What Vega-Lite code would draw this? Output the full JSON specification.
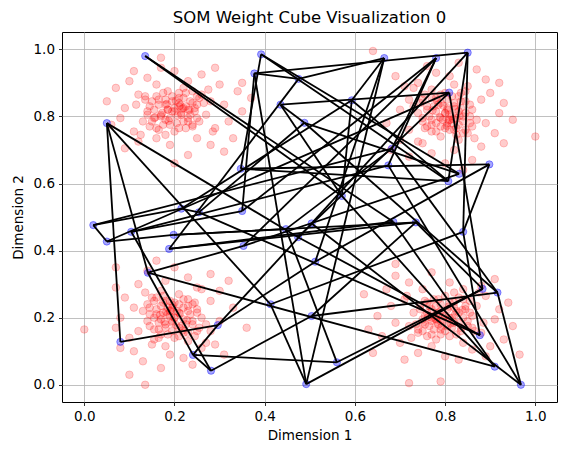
{
  "$schema": "https://vega.github.io/schema/vega-lite/v6.json",
  "width": 495,
  "height": 370,
  "autosize": "none",
  "padding": {"left": 62, "top": 32, "right": 10, "bottom": 53},
  "title": {"text": "SOM Weight Cube Visualization 0", "font": "DejaVu Sans", "fontSize": 16.5, "fontWeight": "normal", "color": "black", "offset": 6},
  "config": {
    "view": {"stroke": "black", "strokeWidth": 1},
    "axis": {
      "domain": false, "grid": true, "gridColor": "#b0b0b0", "gridWidth": 0.8,
      "tickColor": "black", "tickSize": 3.5, "tickWidth": 0.8,
      "labelFont": "DejaVu Sans", "labelFontSize": 13.5, "labelColor": "black", "labelPadding": 3,
      "titleFont": "DejaVu Sans", "titleFontSize": 13.5, "titleFontWeight": "normal", "titleColor": "black"
    }
  },
  "datasets": {
    "pts": [
      {"x":0.2,"y":0.815},{"x":0.22,"y":0.825},{"x":0.18,"y":0.835},{"x":0.23,"y":0.795},{"x":0.17,"y":0.805},{"x":0.21,"y":0.855},{"x":0.19,"y":0.775},{"x":0.25,"y":0.835},{"x":0.15,"y":0.845},{"x":0.24,"y":0.775},
      {"x":0.16,"y":0.765},{"x":0.26,"y":0.865},{"x":0.14,"y":0.815},{"x":0.27,"y":0.805},{"x":0.13,"y":0.785},{"x":0.22,"y":0.885},{"x":0.18,"y":0.745},{"x":0.28,"y":0.845},{"x":0.12,"y":0.865},{"x":0.29,"y":0.765},
      {"x":0.11,"y":0.755},{"x":0.23,"y":0.905},{"x":0.16,"y":0.895},{"x":0.25,"y":0.735},{"x":0.19,"y":0.715},{"x":0.31,"y":0.835},{"x":0.09,"y":0.825},{"x":0.32,"y":0.785},{"x":0.08,"y":0.795},{"x":0.2,"y":0.935},
      {"x":0.26,"y":0.925},{"x":0.14,"y":0.915},{"x":0.3,"y":0.895},{"x":0.1,"y":0.905},{"x":0.28,"y":0.715},{"x":0.12,"y":0.725},{"x":0.34,"y":0.875},{"x":0.06,"y":0.775},{"x":0.33,"y":0.735},{"x":0.07,"y":0.885},
      {"x":0.21,"y":0.83},{"x":0.215,"y":0.805},{"x":0.185,"y":0.82},{"x":0.235,"y":0.845},{"x":0.165,"y":0.85},{"x":0.245,"y":0.815},{"x":0.155,"y":0.795},{"x":0.225,"y":0.765},{"x":0.175,"y":0.87},{"x":0.255,"y":0.785},
      {"x":0.145,"y":0.77},{"x":0.265,"y":0.84},{"x":0.135,"y":0.86},{"x":0.2,"y":0.755},{"x":0.21,"y":0.87},{"x":0.275,"y":0.88},{"x":0.125,"y":0.745},{"x":0.285,"y":0.755},{"x":0.115,"y":0.835},{"x":0.24,"y":0.875},
      {"x":0.16,"y":0.735},{"x":0.35,"y":0.815},{"x":0.05,"y":0.845},{"x":0.23,"y":0.685},{"x":0.17,"y":0.945},{"x":0.37,"y":0.855},{"x":0.31,"y":0.695},{"x":0.09,"y":0.705},{"x":0.29,"y":0.945},{"x":0.11,"y":0.935},
      {"x":0.22,"y":0.785},{"x":0.195,"y":0.845},{"x":0.23,"y":0.82},{"x":0.18,"y":0.79},{"x":0.25,"y":0.86},{"x":0.17,"y":0.975},{"x":0.35,"y":0.9},{"x":0.2,"y":0.66},
      {"x":0.2,"y":0.825},{"x":0.185,"y":0.82},{"x":0.215,"y":0.81},{"x":0.17,"y":0.8},{"x":0.21,"y":0.84},{"x":0.19,"y":0.795},{"x":0.225,"y":0.83},{"x":0.165,"y":0.835},{"x":0.205,"y":0.78},{"x":0.18,"y":0.85},
      {"x":0.235,"y":0.805},{"x":0.155,"y":0.82},{"x":0.22,"y":0.855},{"x":0.175,"y":0.775},{"x":0.24,"y":0.84},{"x":0.15,"y":0.785},{"x":0.195,"y":0.86},{"x":0.23,"y":0.785},{"x":0.16,"y":0.86},{"x":0.245,"y":0.825},
      {"x":0.145,"y":0.83},{"x":0.21,"y":0.765},{"x":0.185,"y":0.875},{"x":0.25,"y":0.795},{"x":0.14,"y":0.805},{"x":0.225,"y":0.87},{"x":0.165,"y":0.76},{"x":0.255,"y":0.855},{"x":0.135,"y":0.85},{"x":0.24,"y":0.77},
      {"x":0.195,"y":0.815},{"x":0.207,"y":0.803},{"x":0.183,"y":0.837},{"x":0.217,"y":0.823},{"x":0.173,"y":0.811},{"x":0.203,"y":0.847},{"x":0.187,"y":0.787},{"x":0.233,"y":0.819},{"x":0.157,"y":0.797},{"x":0.213,"y":0.833},

      {"x":0.8,"y":0.81},{"x":0.81,"y":0.79},{"x":0.82,"y":0.83},{"x":0.78,"y":0.78},{"x":0.79,"y":0.84},{"x":0.84,"y":0.8},{"x":0.76,"y":0.82},{"x":0.82,"y":0.76},{"x":0.83,"y":0.86},{"x":0.76,"y":0.77},
      {"x":0.75,"y":0.85},{"x":0.85,"y":0.75},{"x":0.8,"y":0.87},{"x":0.79,"y":0.74},{"x":0.77,"y":0.88},{"x":0.87,"y":0.79},{"x":0.73,"y":0.83},{"x":0.83,"y":0.73},{"x":0.85,"y":0.89},{"x":0.75,"y":0.72},
      {"x":0.74,"y":0.9},{"x":0.89,"y":0.78},{"x":0.88,"y":0.85},{"x":0.72,"y":0.76},{"x":0.7,"y":0.82},{"x":0.82,"y":0.7},{"x":0.81,"y":0.92},{"x":0.77,"y":0.69},{"x":0.78,"y":0.93},{"x":0.92,"y":0.81},
      {"x":0.91,"y":0.75},{"x":0.9,"y":0.87},{"x":0.88,"y":0.71},{"x":0.89,"y":0.91},{"x":0.7,"y":0.73},{"x":0.71,"y":0.89},{"x":0.86,"y":0.67},{"x":0.76,"y":0.95},{"x":0.72,"y":0.68},{"x":0.87,"y":0.94},
      {"x":0.815,"y":0.8},{"x":0.79,"y":0.795},{"x":0.805,"y":0.825},{"x":0.83,"y":0.775},{"x":0.835,"y":0.845},{"x":0.8,"y":0.765},{"x":0.78,"y":0.855},{"x":0.75,"y":0.785},{"x":0.855,"y":0.835},{"x":0.77,"y":0.755},
      {"x":0.755,"y":0.865},{"x":0.825,"y":0.745},{"x":0.845,"y":0.875},{"x":0.74,"y":0.81},{"x":0.855,"y":0.8},{"x":0.865,"y":0.735},{"x":0.73,"y":0.885},{"x":0.74,"y":0.725},{"x":0.82,"y":0.895},{"x":0.86,"y":0.77},
      {"x":0.72,"y":0.85},{"x":0.8,"y":0.66},{"x":0.83,"y":0.96},{"x":0.67,"y":0.78},{"x":0.93,"y":0.84},{"x":0.84,"y":0.64},{"x":0.68,"y":0.7},{"x":0.69,"y":0.92},{"x":0.93,"y":0.72},{"x":0.92,"y":0.9},
      {"x":0.77,"y":0.79},{"x":0.83,"y":0.815},{"x":0.805,"y":0.78},{"x":0.775,"y":0.83},{"x":0.845,"y":0.76},{"x":1.0,"y":0.74},{"x":0.64,"y":0.995},{"x":0.95,"y":0.79},
      {"x":0.81,"y":0.805},{"x":0.805,"y":0.82},{"x":0.795,"y":0.79},{"x":0.785,"y":0.835},{"x":0.825,"y":0.795},{"x":0.78,"y":0.815},{"x":0.815,"y":0.78},{"x":0.82,"y":0.84},{"x":0.765,"y":0.8},{"x":0.835,"y":0.825},
      {"x":0.79,"y":0.77},{"x":0.805,"y":0.85},{"x":0.84,"y":0.785},{"x":0.76,"y":0.83},{"x":0.825,"y":0.765},{"x":0.77,"y":0.855},{"x":0.845,"y":0.81},{"x":0.77,"y":0.775},{"x":0.845,"y":0.845},{"x":0.81,"y":0.76},
      {"x":0.815,"y":0.86},{"x":0.75,"y":0.795},{"x":0.86,"y":0.82},{"x":0.78,"y":0.755},{"x":0.79,"y":0.865},{"x":0.855,"y":0.78},{"x":0.745,"y":0.84},{"x":0.84,"y":0.75},{"x":0.835,"y":0.87},{"x":0.755,"y":0.765},
      {"x":0.8,"y":0.81},{"x":0.788,"y":0.798},{"x":0.822,"y":0.822},{"x":0.808,"y":0.788},{"x":0.796,"y":0.832},{"x":0.832,"y":0.802},{"x":0.772,"y":0.818},{"x":0.804,"y":0.772},{"x":0.782,"y":0.848},{"x":0.818,"y":0.792},

      {"x":0.2,"y":0.2},{"x":0.19,"y":0.22},{"x":0.18,"y":0.18},{"x":0.22,"y":0.23},{"x":0.21,"y":0.17},{"x":0.16,"y":0.21},{"x":0.24,"y":0.19},{"x":0.18,"y":0.25},{"x":0.17,"y":0.15},{"x":0.24,"y":0.24},
      {"x":0.25,"y":0.16},{"x":0.15,"y":0.26},{"x":0.2,"y":0.14},{"x":0.21,"y":0.27},{"x":0.23,"y":0.13},{"x":0.13,"y":0.22},{"x":0.27,"y":0.18},{"x":0.17,"y":0.28},{"x":0.15,"y":0.12},{"x":0.25,"y":0.29},
      {"x":0.26,"y":0.11},{"x":0.11,"y":0.23},{"x":0.12,"y":0.16},{"x":0.28,"y":0.25},{"x":0.3,"y":0.19},{"x":0.18,"y":0.31},{"x":0.19,"y":0.09},{"x":0.23,"y":0.32},{"x":0.22,"y":0.08},{"x":0.08,"y":0.2},
      {"x":0.09,"y":0.26},{"x":0.1,"y":0.14},{"x":0.12,"y":0.3},{"x":0.11,"y":0.1},{"x":0.3,"y":0.28},{"x":0.29,"y":0.12},{"x":0.14,"y":0.34},{"x":0.24,"y":0.06},{"x":0.28,"y":0.33},{"x":0.13,"y":0.07},
      {"x":0.185,"y":0.21},{"x":0.21,"y":0.215},{"x":0.195,"y":0.185},{"x":0.17,"y":0.235},{"x":0.165,"y":0.165},{"x":0.2,"y":0.245},{"x":0.22,"y":0.155},{"x":0.25,"y":0.225},{"x":0.145,"y":0.175},{"x":0.23,"y":0.255},
      {"x":0.245,"y":0.145},{"x":0.175,"y":0.265},{"x":0.155,"y":0.135},{"x":0.26,"y":0.2},{"x":0.145,"y":0.21},{"x":0.135,"y":0.275},{"x":0.27,"y":0.125},{"x":0.26,"y":0.285},{"x":0.18,"y":0.115},{"x":0.14,"y":0.24},
      {"x":0.28,"y":0.16},{"x":0.2,"y":0.35},{"x":0.17,"y":0.05},{"x":0.33,"y":0.23},{"x":0.07,"y":0.17},{"x":0.16,"y":0.37},{"x":0.32,"y":0.31},{"x":0.31,"y":0.09},{"x":0.07,"y":0.29},{"x":0.08,"y":0.11},
      {"x":0.23,"y":0.22},{"x":0.17,"y":0.195},{"x":0.195,"y":0.23},{"x":0.225,"y":0.18},{"x":0.155,"y":0.25},{"x":0.0,"y":0.165},{"x":0.135,"y":0.0},{"x":0.36,"y":0.17},{"x":0.07,"y":0.35},{"x":0.1,"y":0.03},
      {"x":0.19,"y":0.205},{"x":0.195,"y":0.19},{"x":0.205,"y":0.22},{"x":0.215,"y":0.175},{"x":0.175,"y":0.215},{"x":0.22,"y":0.195},{"x":0.185,"y":0.23},{"x":0.18,"y":0.17},{"x":0.235,"y":0.21},{"x":0.165,"y":0.185},
      {"x":0.21,"y":0.24},{"x":0.195,"y":0.16},{"x":0.16,"y":0.225},{"x":0.24,"y":0.18},{"x":0.175,"y":0.245},{"x":0.23,"y":0.155},{"x":0.155,"y":0.2},{"x":0.23,"y":0.235},{"x":0.155,"y":0.165},{"x":0.19,"y":0.25},
      {"x":0.185,"y":0.15},{"x":0.25,"y":0.215},{"x":0.14,"y":0.19},{"x":0.22,"y":0.255},{"x":0.21,"y":0.145},{"x":0.145,"y":0.23},{"x":0.255,"y":0.17},{"x":0.16,"y":0.26},{"x":0.165,"y":0.14},{"x":0.245,"y":0.245},
      {"x":0.2,"y":0.2},{"x":0.212,"y":0.212},{"x":0.178,"y":0.188},{"x":0.192,"y":0.222},{"x":0.204,"y":0.178},{"x":0.168,"y":0.208},{"x":0.228,"y":0.192},{"x":0.196,"y":0.238},{"x":0.218,"y":0.162},{"x":0.182,"y":0.218},

      {"x":0.8,"y":0.205},{"x":0.78,"y":0.195},{"x":0.82,"y":0.185},{"x":0.77,"y":0.225},{"x":0.83,"y":0.215},{"x":0.79,"y":0.165},{"x":0.81,"y":0.245},{"x":0.75,"y":0.185},{"x":0.85,"y":0.175},{"x":0.76,"y":0.245},
      {"x":0.84,"y":0.255},{"x":0.74,"y":0.155},{"x":0.86,"y":0.205},{"x":0.73,"y":0.215},{"x":0.87,"y":0.235},{"x":0.78,"y":0.135},{"x":0.82,"y":0.275},{"x":0.72,"y":0.175},{"x":0.88,"y":0.155},{"x":0.71,"y":0.255},
      {"x":0.89,"y":0.265},{"x":0.77,"y":0.115},{"x":0.84,"y":0.125},{"x":0.75,"y":0.285},{"x":0.81,"y":0.305},{"x":0.69,"y":0.185},{"x":0.91,"y":0.195},{"x":0.68,"y":0.235},{"x":0.92,"y":0.225},{"x":0.8,"y":0.085},
      {"x":0.74,"y":0.095},{"x":0.86,"y":0.105},{"x":0.7,"y":0.125},{"x":0.9,"y":0.115},{"x":0.72,"y":0.305},{"x":0.88,"y":0.295},{"x":0.66,"y":0.145},{"x":0.94,"y":0.245},{"x":0.67,"y":0.285},{"x":0.93,"y":0.135},
      {"x":0.79,"y":0.19},{"x":0.785,"y":0.215},{"x":0.815,"y":0.2},{"x":0.765,"y":0.175},{"x":0.835,"y":0.17},{"x":0.755,"y":0.205},{"x":0.845,"y":0.225},{"x":0.775,"y":0.255},{"x":0.825,"y":0.15},{"x":0.745,"y":0.235},
      {"x":0.855,"y":0.25},{"x":0.735,"y":0.18},{"x":0.865,"y":0.16},{"x":0.8,"y":0.265},{"x":0.79,"y":0.15},{"x":0.725,"y":0.14},{"x":0.875,"y":0.275},{"x":0.715,"y":0.265},{"x":0.885,"y":0.185},{"x":0.76,"y":0.145},
      {"x":0.84,"y":0.285},{"x":0.65,"y":0.205},{"x":0.95,"y":0.175},{"x":0.77,"y":0.335},{"x":0.83,"y":0.075},{"x":0.63,"y":0.165},{"x":0.69,"y":0.325},{"x":0.91,"y":0.315},{"x":0.71,"y":0.075},{"x":0.89,"y":0.085},
      {"x":0.78,"y":0.235},{"x":0.805,"y":0.175},{"x":0.77,"y":0.2},{"x":0.82,"y":0.23},{"x":0.75,"y":0.16},{"x":0.62,"y":0.27},{"x":0.965,"y":0.09},{"x":0.69,"y":0.36},{"x":0.72,"y":0.005},{"x":0.79,"y":0.01},{"x":0.64,"y":0.095},
      {"x":0.795,"y":0.195},{"x":0.81,"y":0.2},{"x":0.78,"y":0.21},{"x":0.825,"y":0.22},{"x":0.785,"y":0.18},{"x":0.805,"y":0.225},{"x":0.77,"y":0.19},{"x":0.83,"y":0.185},{"x":0.79,"y":0.24},{"x":0.815,"y":0.17},
      {"x":0.76,"y":0.215},{"x":0.84,"y":0.2},{"x":0.775,"y":0.165},{"x":0.82,"y":0.245},{"x":0.755,"y":0.18},{"x":0.845,"y":0.235},{"x":0.8,"y":0.16},{"x":0.765,"y":0.235},{"x":0.835,"y":0.16},{"x":0.75,"y":0.195},
      {"x":0.85,"y":0.19},{"x":0.785,"y":0.255},{"x":0.81,"y":0.145},{"x":0.745,"y":0.225},{"x":0.855,"y":0.215},{"x":0.77,"y":0.15},{"x":0.83,"y":0.26},{"x":0.74,"y":0.165},{"x":0.86,"y":0.17},{"x":0.755,"y":0.25},
      {"x":0.8,"y":0.205},{"x":0.788,"y":0.217},{"x":0.812,"y":0.183},{"x":0.778,"y":0.197},{"x":0.822,"y":0.209},{"x":0.792,"y":0.173},{"x":0.808,"y":0.233},{"x":0.762,"y":0.201},{"x":0.838,"y":0.223},{"x":0.782,"y":0.187}
    ],
    "nodes": [
      {"x":0.135,"y":0.98},{"x":0.05,"y":0.78},{"x":0.392,"y":0.985},{"x":0.377,"y":0.928},{"x":0.475,"y":0.912},{"x":0.435,"y":0.835},{"x":0.488,"y":0.781},
      {"x":0.347,"y":0.644},{"x":0.215,"y":0.525},{"x":0.254,"y":0.514},{"x":0.35,"y":0.518},{"x":0.02,"y":0.476},{"x":0.05,"y":0.427},{"x":0.104,"y":0.456},
      {"x":0.198,"y":0.447},{"x":0.188,"y":0.405},{"x":0.141,"y":0.334},{"x":0.353,"y":0.414},{"x":0.413,"y":0.24},{"x":0.296,"y":0.178},{"x":0.08,"y":0.128},
      {"x":0.241,"y":0.089},{"x":0.281,"y":0.042},{"x":0.492,"y":0.002},{"x":0.665,"y":0.974},{"x":0.78,"y":0.974},{"x":0.85,"y":0.99},{"x":0.809,"y":0.871},
      {"x":0.593,"y":0.848},{"x":0.682,"y":0.704},{"x":0.674,"y":0.654},{"x":0.898,"y":0.657},{"x":0.831,"y":0.629},{"x":0.807,"y":0.607},{"x":0.571,"y":0.563},
      {"x":0.504,"y":0.481},{"x":0.735,"y":0.484},{"x":0.84,"y":0.456},{"x":0.512,"y":0.367},{"x":0.504,"y":0.205},{"x":0.883,"y":0.286},{"x":0.916,"y":0.275},
      {"x":0.877,"y":0.148},{"x":0.91,"y":0.054},{"x":0.968,"y":0.0},{"x":0.56,"y":0.067},{"x":0.447,"y":0.464},{"x":0.474,"y":0.44},{"x":0.685,"y":0.486}
    ],
    "edges": [
      {"e":1,"x":0.135,"y":0.98},{"e":1,"x":0.571,"y":0.563},
      {"e":2,"x":0.135,"y":0.98},{"e":2,"x":0.685,"y":0.486},
      {"e":3,"x":0.05,"y":0.78},{"e":3,"x":0.08,"y":0.128},
      {"e":4,"x":0.05,"y":0.78},{"e":4,"x":0.141,"y":0.334},
      {"e":5,"x":0.05,"y":0.78},{"e":5,"x":0.413,"y":0.24},
      {"e":6,"x":0.05,"y":0.78},{"e":6,"x":0.474,"y":0.44},
      {"e":7,"x":0.392,"y":0.985},{"e":7,"x":0.347,"y":0.644},
      {"e":8,"x":0.392,"y":0.985},{"e":8,"x":0.807,"y":0.607},
      {"e":9,"x":0.392,"y":0.985},{"e":9,"x":0.831,"y":0.629},
      {"e":10,"x":0.377,"y":0.928},{"e":10,"x":0.85,"y":0.99},
      {"e":11,"x":0.377,"y":0.928},{"e":11,"x":0.475,"y":0.912},
      {"e":12,"x":0.377,"y":0.928},{"e":12,"x":0.492,"y":0.002},
      {"e":13,"x":0.377,"y":0.928},{"e":13,"x":0.35,"y":0.518},
      {"e":14,"x":0.475,"y":0.912},{"e":14,"x":0.665,"y":0.974},
      {"e":15,"x":0.475,"y":0.912},{"e":15,"x":0.188,"y":0.405},
      {"e":16,"x":0.665,"y":0.974},{"e":16,"x":0.492,"y":0.002},
      {"e":17,"x":0.665,"y":0.974},{"e":17,"x":0.512,"y":0.367},
      {"e":18,"x":0.665,"y":0.974},{"e":18,"x":0.593,"y":0.848},
      {"e":19,"x":0.347,"y":0.644},{"e":19,"x":0.898,"y":0.657},
      {"e":20,"x":0.347,"y":0.644},{"e":20,"x":0.807,"y":0.607},
      {"e":21,"x":0.08,"y":0.128},{"e":21,"x":0.296,"y":0.178},
      {"e":22,"x":0.141,"y":0.334},{"e":22,"x":0.353,"y":0.414},
      {"e":23,"x":0.141,"y":0.334},{"e":23,"x":0.241,"y":0.089},
      {"e":24,"x":0.141,"y":0.334},{"e":24,"x":0.91,"y":0.054},
      {"e":25,"x":0.296,"y":0.178},{"e":25,"x":0.241,"y":0.089},
      {"e":26,"x":0.296,"y":0.178},{"e":26,"x":0.504,"y":0.481},
      {"e":27,"x":0.296,"y":0.178},{"e":27,"x":0.512,"y":0.367},
      {"e":28,"x":0.241,"y":0.089},{"e":28,"x":0.281,"y":0.042},
      {"e":29,"x":0.241,"y":0.089},{"e":29,"x":0.56,"y":0.067},
      {"e":30,"x":0.281,"y":0.042},{"e":30,"x":0.104,"y":0.456},
      {"e":31,"x":0.281,"y":0.042},{"e":31,"x":0.504,"y":0.205},
      {"e":32,"x":0.492,"y":0.002},{"e":32,"x":0.413,"y":0.24},
      {"e":33,"x":0.492,"y":0.002},{"e":33,"x":0.883,"y":0.286},
      {"e":34,"x":0.56,"y":0.067},{"e":34,"x":0.883,"y":0.286},
      {"e":35,"x":0.56,"y":0.067},{"e":35,"x":0.447,"y":0.464},
      {"e":36,"x":0.968,"y":0.0},{"e":36,"x":0.916,"y":0.275},
      {"e":37,"x":0.968,"y":0.0},{"e":37,"x":0.674,"y":0.654},
      {"e":38,"x":0.968,"y":0.0},{"e":38,"x":0.504,"y":0.481},
      {"e":39,"x":0.85,"y":0.99},{"e":39,"x":0.84,"y":0.456},
      {"e":40,"x":0.85,"y":0.99},{"e":40,"x":0.807,"y":0.607},
      {"e":41,"x":0.85,"y":0.99},{"e":41,"x":0.504,"y":0.481},
      {"e":42,"x":0.02,"y":0.476},{"e":42,"x":0.05,"y":0.427},
      {"e":43,"x":0.02,"y":0.476},{"e":43,"x":0.682,"y":0.704},
      {"e":44,"x":0.02,"y":0.476},{"e":44,"x":0.215,"y":0.525},
      {"e":45,"x":0.05,"y":0.427},{"e":45,"x":0.198,"y":0.447},
      {"e":46,"x":0.05,"y":0.427},{"e":46,"x":0.809,"y":0.871},
      {"e":47,"x":0.104,"y":0.456},{"e":47,"x":0.35,"y":0.518},
      {"e":48,"x":0.104,"y":0.456},{"e":48,"x":0.674,"y":0.654},
      {"e":49,"x":0.198,"y":0.447},{"e":49,"x":0.447,"y":0.464},
      {"e":50,"x":0.198,"y":0.447},{"e":50,"x":0.735,"y":0.484},
      {"e":51,"x":0.215,"y":0.525},{"e":51,"x":0.254,"y":0.514},
      {"e":52,"x":0.215,"y":0.525},{"e":52,"x":0.593,"y":0.848},
      {"e":53,"x":0.254,"y":0.514},{"e":53,"x":0.488,"y":0.781},
      {"e":54,"x":0.254,"y":0.514},{"e":54,"x":0.877,"y":0.148},
      {"e":55,"x":0.35,"y":0.518},{"e":55,"x":0.78,"y":0.974},
      {"e":56,"x":0.353,"y":0.414},{"e":56,"x":0.831,"y":0.629},
      {"e":57,"x":0.353,"y":0.414},{"e":57,"x":0.78,"y":0.974},
      {"e":58,"x":0.188,"y":0.405},{"e":58,"x":0.735,"y":0.484},
      {"e":59,"x":0.188,"y":0.405},{"e":59,"x":0.685,"y":0.486},
      {"e":60,"x":0.447,"y":0.464},{"e":60,"x":0.682,"y":0.704},
      {"e":61,"x":0.474,"y":0.44},{"e":61,"x":0.809,"y":0.871},
      {"e":62,"x":0.474,"y":0.44},{"e":62,"x":0.877,"y":0.148},
      {"e":63,"x":0.512,"y":0.367},{"e":63,"x":0.898,"y":0.657},
      {"e":64,"x":0.504,"y":0.205},{"e":64,"x":0.735,"y":0.484},
      {"e":65,"x":0.504,"y":0.205},{"e":65,"x":0.916,"y":0.275},
      {"e":66,"x":0.571,"y":0.563},{"e":66,"x":0.593,"y":0.848},
      {"e":67,"x":0.571,"y":0.563},{"e":67,"x":0.91,"y":0.054},
      {"e":68,"x":0.571,"y":0.563},{"e":68,"x":0.435,"y":0.835},
      {"e":69,"x":0.682,"y":0.704},{"e":69,"x":0.78,"y":0.974},
      {"e":70,"x":0.682,"y":0.704},{"e":70,"x":0.916,"y":0.275},
      {"e":71,"x":0.674,"y":0.654},{"e":71,"x":0.78,"y":0.974},
      {"e":72,"x":0.593,"y":0.848},{"e":72,"x":0.807,"y":0.607},
      {"e":73,"x":0.435,"y":0.835},{"e":73,"x":0.809,"y":0.871},
      {"e":74,"x":0.435,"y":0.835},{"e":74,"x":0.488,"y":0.781},
      {"e":75,"x":0.488,"y":0.781},{"e":75,"x":0.831,"y":0.629},
      {"e":76,"x":0.488,"y":0.781},{"e":76,"x":0.916,"y":0.275},
      {"e":77,"x":0.898,"y":0.657},{"e":77,"x":0.84,"y":0.456},
      {"e":78,"x":0.735,"y":0.484},{"e":78,"x":0.883,"y":0.286},
      {"e":79,"x":0.84,"y":0.456},{"e":79,"x":0.877,"y":0.148},
      {"e":80,"x":0.84,"y":0.456},{"e":80,"x":0.413,"y":0.24},
      {"e":81,"x":0.685,"y":0.486},{"e":81,"x":0.91,"y":0.054},
      {"e":82,"x":0.809,"y":0.871},{"e":82,"x":0.883,"y":0.286}
    ]
  },
  "layer": [
    {
      "data": {"name": "pts"},
      "mark": {"type": "point", "shape": "circle", "filled": true, "size": 58, "color": "red", "fillOpacity": 0.2, "stroke": "red", "strokeOpacity": 0.2, "strokeWidth": 1},
      "encoding": {
        "x": {"field": "x", "type": "quantitative", "title": "Dimension 1",
          "scale": {"domain": [-0.0494, 1.048], "nice": false, "zero": false},
          "axis": {"values": [0, 0.2, 0.4, 0.6, 0.8, 1.0], "format": ".1f", "labelPadding": 4, "titlePadding": 5}},
        "y": {"field": "y", "type": "quantitative", "title": "Dimension 2",
          "scale": {"domain": [-0.0513, 1.0516], "nice": false, "zero": false},
          "axis": {"values": [0, 0.2, 0.4, 0.6, 0.8, 1.0], "format": ".1f", "labelPadding": 4, "titlePadding": 8}}
      }
    },
    {
      "data": {"name": "nodes"},
      "mark": {"type": "point", "shape": "circle", "filled": true, "size": 52, "color": "blue", "fillOpacity": 0.35, "stroke": "blue", "strokeOpacity": 0.4, "strokeWidth": 1},
      "encoding": {
        "x": {"field": "x", "type": "quantitative"},
        "y": {"field": "y", "type": "quantitative"}
      }
    },
    {
      "data": {"name": "edges"},
      "mark": {"type": "line", "color": "black", "strokeWidth": 1.8},
      "encoding": {
        "x": {"field": "x", "type": "quantitative"},
        "y": {"field": "y", "type": "quantitative"},
        "detail": {"field": "e", "type": "nominal"}
      }
    }
  ]
}
